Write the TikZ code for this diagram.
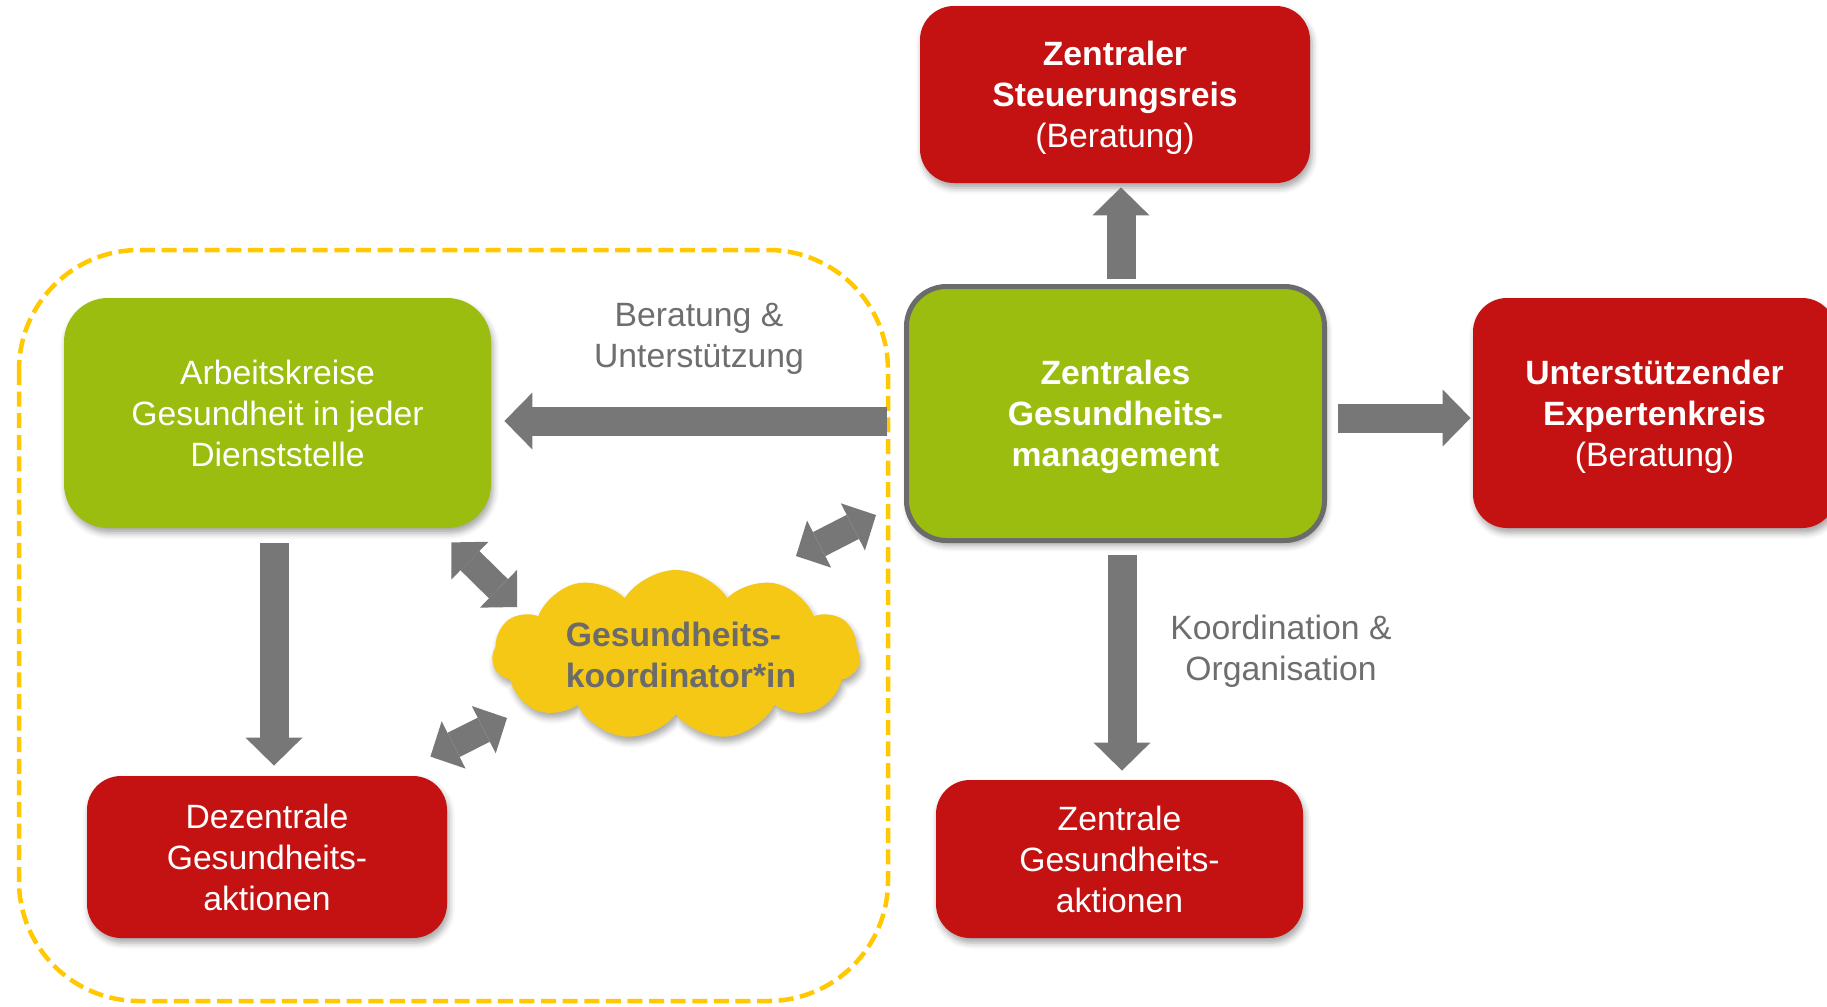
\documentclass[tikz,border=0pt]{standalone}
\usepackage{fontspec}
\setmainfont{Liberation Sans}
\usetikzlibrary{arrows.meta,shapes.symbols,shadows.blur,calc}
\definecolor{boxred}{HTML}{C41212}
\definecolor{boxgreen}{HTML}{9ABD0F}
\definecolor{arrowgray}{HTML}{777777}
\definecolor{bordergray}{HTML}{6B6B6B}
\definecolor{labelgray}{HTML}{6E6E6E}
\definecolor{cloudyellow}{HTML}{F5C816}
\definecolor{dashyellow}{HTML}{FFC800}
\newcommand\diafont{\fontsize{16.85pt}{20.5pt}\selectfont}
\tikzset{
  softshadow/.style={blur shadow={shadow xshift=1pt, shadow yshift=-2.5pt, shadow blur radius=3pt, shadow opacity=35}},
  box/.style={rounded corners=17pt, align=center, text=white, inner sep=0pt, font=\diafont, text depth=0pt, softshadow},
  redbox/.style={box, fill=boxred},
  greenbox/.style={box, fill=boxgreen, rounded corners=22pt},
  barrow/.style={draw=arrowgray, line width=14.5pt, -{Triangle[length=14pt, width=28.5pt, line width=0pt]}},
  dbarrow/.style={draw=arrowgray, line width=13.5pt,
     {Triangle[length=13pt, width=26.5pt, line width=0pt]}-{Triangle[length=13pt, width=26.5pt, line width=0pt]}},
  lbl/.style={align=center, text=labelgray, font=\diafont, inner sep=0pt},
}
\begin{document}
\begin{tikzpicture}[x=0.5pt, y=-0.5pt]
\useasboundingbox (0,0) rectangle (1827,1007);
\clip (0,0) rectangle (1827,1007);

% group frame
\draw[dashyellow, line width=2.25pt, dash pattern=on 7.5pt off 3.3pt, rounded corners=60pt]
  (19,250) rectangle (888,1001);

% nodes
\node[redbox, minimum width=195pt, minimum height=88.5pt] (szk) at (1115,94.5)
  {\textbf{Zentraler}\\\textbf{Steuerungsreis}\\(Beratung)};
\node[greenbox, draw=bordergray, line width=2.5pt, rounded corners=20pt, minimum width=209pt, minimum height=127pt] (gm) at (1115.5,413.5)
  {\textbf{Zentrales}\\\textbf{Gesundheits-}\\\textbf{management}};
\node[redbox, minimum width=181.5pt, minimum height=115pt] (re) at (1654.5,413)
  {\textbf{Unterstützender}\\\textbf{Expertenkreis}\\(Beratung)};
\node[greenbox, minimum width=213.5pt, minimum height=115pt] (ak) at (277.5,413)
  {Arbeitskreise\\Gesundheit in jeder\\Dienststelle};
\node[redbox, minimum width=180pt, minimum height=81pt] (dez) at (267,857)
  {Dezentrale\\Gesundheits-\\aktionen};
\node[redbox, minimum width=183.5pt, minimum height=79pt] (zga) at (1119.5,859)
  {Zentrale\\Gesundheits-\\aktionen};
\node[cloud, cloud puffs=11, cloud puff arc=115, aspect=2.16, fill=cloudyellow, softshadow,
      minimum width=184pt, minimum height=85pt, inner sep=0pt] (koord) at (676,655) {};
\node[align=left, inner sep=0pt, text=bordergray, font=\diafont\bfseries] (koordtext) at ($(koord.center)+(5,0)$)
  {Gesundheits-\\koordinator*in};

% labels
\node[lbl] (l1) at (699,339) {Beratung \&\\Unterstützung};
\node[lbl] (l2) at (1281,651) {Koordination \&\\Organisation};

% arrows
\draw[barrow] ($(gm.north)+(5.5,-5)$) -- ($(szk.south)+(6,4)$);
\draw[barrow] ($(gm.east)+(11,4.5)$) -- ($(re.west)+(-2,5)$);
\draw[barrow] ($(gm.west)+(-17,7.5)$) -- ($(ak.east)+(13,8)$);
\draw[barrow] ($(gm.south)+(6.5,12)$) -- ($(zga.north)+(2.5,-9)$);
\draw[barrow] ($(ak.south)+(-3.5,15)$) -- ($(dez.north)+(7,-10)$);
\draw[dbarrow] ($(ak.south east)+(-40,14)$) -- ($(koord.center)+(-159,-48)$);
\draw[dbarrow] ($(koord.center)+(120,-99)$) -- ($(gm.west)+(-28,101.5)$);
\draw[dbarrow] ($(dez.north east)+(-17,-19)$) -- ($(koord.center)+(-169,63)$);
\end{tikzpicture}
\end{document}
